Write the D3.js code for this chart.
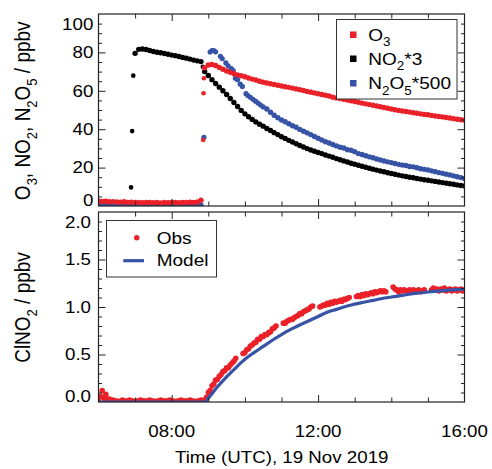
<!DOCTYPE html>
<html><head><meta charset="utf-8">
<script src="https://cdn.jsdelivr.net/npm/d3@7"></script>
<style>body{margin:0;background:#fff} svg{display:block}</style>
</head><body><svg id="c" width="492" height="469"></svg>
<script>
// ---------------- DATA ----------------
// Top panel: regular 0.1 h grid from 06:00 to 16:00 (101 samples)
const topStart = 6.0, topStep = 0.1;
const o3 = [2.6,2.4,2.5,2.2,2.3,2.1,2.0,2.2,1.9,2.0, 1.8,1.9,1.7,1.8,1.9,1.7,1.8,1.6,1.8,1.7, 1.9,1.8,1.7,1.9,1.8,2.0,1.9,2.1,3.0,
  72.0, 73.4,73.7,73.2,72.2,71.2,70.3,69.6,68.9,68.3,67.8,
  67.3,66.7,66.1,65.6,65.0,64.5,64.1,63.7,63.3,62.9,
  62.5,62.1,61.8,61.4,61.0,60.6,60.2,59.7,59.3,58.9,
  58.5,58.1,57.7,57.3,56.7,56.3,56.0,55.6,55.2,54.8,
  54.4,54.0,53.6,53.2,52.8,52.5,52.1,51.7,51.3,50.9,
  50.5,50.1,49.8,49.5,49.2,48.9,48.6,48.3,48.0,47.7,
  47.5,47.2,46.9,46.6,46.4,46.1,45.8,45.5,45.2,44.9, 44.7];
const no2x3 = [0.5,0.4,0.6,0.5,0.4,0.5,0.6,0.4,0.5,0.5,
  79.5,81.6,81.8,81.5,81.0,80.5,80.1,79.8,79.4,79.0,
  78.6,78.3,77.9,77.4,77.0,76.5,76.0,75.6,75.2,
  70.0, 68.0,65.8,63.8,61.9,60.0,58.1,56.0,53.9,51.8,49.8,
  48.0,46.5,45.1,43.8,42.6,41.6,40.4,39.3,38.2,37.2,
  36.1,35.2,34.2,33.3,32.4,31.5,30.7,29.9,29.2,28.5,
  27.9,27.3,26.6,26.0,25.4,24.7,24.1,23.5,22.9,22.3,
  21.8,21.2,20.7,20.2,19.7,19.2,18.7,18.2,17.8,17.3,
  16.9,16.5,16.1,15.7,15.4,15.0,14.7,14.3,14.0,13.7,
  13.4,13.1,12.8,12.5,12.2,11.9,11.6,11.3,11.0,10.7, 10.4];
const n2o5x500 = [0.3,0.2,0.4,0.3,0.3,0.2,0.3,0.4,0.3,0.2, 0.3,0.3,0.2,0.4,0.3,0.3,0.2,0.3,0.4,0.3, 0.3,0.2,0.3,0.3,0.4,0.3,0.2,0.3,0.4,
  null, null,null,null,null,null,null,null,null,null,null,
  null,null,null,null,null,null,
  50.5,48.8,47.3,46.0,
  44.8,43.9,42.8,41.8,41.0,39.9,38.9,38.1,37.2,36.2,
  35.3,34.4,33.5,32.8,32.0,31.3,30.6,30.2,29.3,29.0,
  28.3,27.3,26.8,26.2,25.6,25.1,24.5,24.0,23.5,23.0,
  22.6,22.1,21.7,21.3,21.1,20.6,20.4,19.9,19.4,19.1,
  18.8,18.3,17.9,17.4,17.0,16.6,16.2,15.7,15.2,14.8, 14.3];
// irregular samples (rapid changes / sparse N2O5)
const no2JumpTime = [6.89, 6.92, 6.95, 8.85];
const no2JumpVal  = [9.7, 39.0, 67.9, 72.5];
const o3JumpTime  = [8.86, 8.87, 8.88];
const o3JumpVal   = [34.4, 58.7, 66.5];
const n2o5SparseTime = [8.88, 9.05, 9.10, 9.15, 9.20, 9.33, 9.38, 9.48, 9.54, 9.63, 9.68, 9.74, 9.80, 9.87, 9.93, 10.03, 10.08, 10.15, 10.22, 10.29, 10.36, 10.43, 10.50];
const n2o5SparseVal  = [35.8, 80.2, 81.0, 81.0, 80.3, 78.0, 76.8, 74.5, 73.0, 71.5, 70.5, 66.5, 65.8, 63.5, 62.3, 58.5, 57.5, 56.6, 55.6, 54.6, 53.6, 52.6, 51.6];

// Bottom panel: ClNO2 observations on 0.05 h grid from 06:00 (201 samples)
const obsStart = 6.0, obsStep = 0.05;
const clno2Obs = [0.02,0.06,0.12,0.04,0.08,0.03,0.03,
  0.01,0.02,0.01,0.01,0.0,0.01,0.02,0.01,0.01,0.01, 0.02,0.01,0.01,0.0,0.01,0.01,0.02,0.01,0.01,0.01,
  0.01,0.02,0.01,0.01,0.0,0.01,0.01,0.02,0.01,0.01, 0.01,0.01,0.02,0.01,0.01,0.0,0.01,0.01,0.02,0.01,
  0.01,0.01,0.01,0.02,0.01,0.01,0.0,0.01,0.01,0.02, 0.01,
  0.02,0.05,0.10,0.12,0.17,0.19,0.23,0.24,0.27,0.29,
  0.32,0.33,0.36,0.36,0.39,0.41,0.43,0.46,null,null,
  null,0.51,0.52,0.55,0.56,0.59,0.60,0.62,0.63,0.66,
  0.66,0.69,0.69,0.71,0.71,0.73,0.74,0.77,0.78,0.80,
  null,null,null,0.83,0.83,0.85,0.86,0.87,0.87,0.89,
  0.90,0.91,0.93,0.93,0.95,0.96,0.97,0.98,1.00,1.01,
  null,null,null,1.00,1.01,1.02,1.02,1.04,1.03,1.05,
  1.04,1.06,1.05,1.06,1.07,1.06,1.08,1.08,1.09,1.10,
  null,null,null,1.11,1.12,1.11,1.13,1.12,1.14,1.13,
  1.14,1.15,1.14,1.16,1.15,1.16,1.17,1.16,1.17,1.16,
  null,null,null,1.21,1.19,1.18,1.16,1.18,1.17,1.18,
  1.17,1.16,1.18,1.17,1.18,1.16,1.17,1.18,1.16,1.17,
  1.18,null,null,null,1.18,1.20,1.18,1.19,1.17,1.19,
  1.18,1.20,1.17,1.18,1.19,1.17,1.18,1.19,1.17,1.18,
  1.19,1.17,1.18];
const modelTime = [6.0, 8.9, 9.0, 9.25, 9.5, 9.75, 10.0, 10.25, 10.5, 10.75, 11.0, 11.25, 11.5, 11.75, 12.0, 12.25, 12.5, 12.75, 13.0, 13.25, 13.5, 13.75, 14.0, 14.25, 14.5, 14.75, 15.0, 15.25, 15.5, 15.75, 16.0];
const modelVal  = [0, 0, 0.04, 0.16, 0.265, 0.36, 0.45, 0.52, 0.585, 0.65, 0.71, 0.765, 0.81, 0.855, 0.9, 0.945, 0.975, 1.005, 1.03, 1.05, 1.07, 1.09, 1.105, 1.12, 1.135, 1.147, 1.158, 1.167, 1.175, 1.182, 1.187];

// ticks / labels
const xLabelHours = [8, 12, 16];
const xTickLabels = ["08:00", "12:00", "16:00"];
const y1LabelVals = [0, 20, 40, 60, 80, 100];
const y2LabelVals = [0, 0.5, 1.0, 1.5, 2.0];
const y2TickLabels = ["0.0", "0.5", "1.0", "1.5", "2.0"];

// ---------------- DRAWING ----------------
const FONT = "'Liberation Sans', Arial, Helvetica, sans-serif";
const RED = "#ea2128", BLUE = "#3653a6", BLACK = "#000";
const svg = d3.select("#c").style("font-family", FONT);
const L = 98.5, R = 464.5;
const P1 = {top: 14, bottom: 206}, P2 = {top: 212, bottom: 402};
const x = d3.scaleLinear().domain([6, 16]).range([L, R]);
const y1 = d3.scaleLinear().domain([0, 100]).range([P1.bottom, P1.top]);
const y2 = d3.scaleLinear().domain([0, 2]).range([P2.bottom, P2.top]);

const defs = svg.append("defs");
[["clip1", P1], ["clip2", P2]].forEach(([id, P]) => {
  defs.append("clipPath").attr("id", id).append("rect")
    .attr("x", L).attr("y", P.top).attr("width", R - L).attr("height", P.bottom - P.top);
});

function gridPts(start, step, vals) {
  return vals.map((v, i) => ({t: +(start + i * step).toFixed(4), v})).filter(d => d.v != null);
}
function pairPts(ts, vs) { return ts.map((t, i) => ({t, v: vs[i]})); }
function dots(g, pts, yS, color, r) {
  g.append("g").selectAll("circle").data(pts).join("circle")
    .attr("cx", d => x(d.t)).attr("cy", d => yS(d.v)).attr("r", r).attr("fill", color);
}

// text helper: parts = [[string, isSub], ...]
function label(g, px, py, parts, o) {
  const sx = o.sx || 1, rot = o.rot || 0;
  const t = g.append("text")
    .attr("transform", `translate(${px},${py}) scale(${sx},1)` + (rot ? ` rotate(${rot})` : ""))
    .attr("text-anchor", o.anchor || "start")
    .attr("font-size", o.fs).attr("fill", "#000");
  let shifted = false;
  parts.forEach(([s, sub]) => {
    const sp = t.append("tspan").text(s);
    if (sub) { sp.attr("font-size", o.subFs).attr("dy", o.shift); shifted = true; }
    else if (shifted) { sp.attr("dy", -o.shift); shifted = false; }
  });
  return t;
}

// ---- top panel data
const g1 = svg.append("g").attr("clip-path", "url(#clip1)");
dots(g1, gridPts(topStart, topStep, no2x3), y1, BLACK, 2.7);
dots(g1, pairPts(no2JumpTime, no2JumpVal), y1, BLACK, 2.3);
dots(g1, gridPts(topStart, topStep, n2o5x500), y1, BLUE, 2.7);
dots(g1, pairPts(n2o5SparseTime, n2o5SparseVal), y1, BLUE, 2.6);
dots(g1, gridPts(topStart, topStep, o3), y1, RED, 2.7);
dots(g1, pairPts(o3JumpTime, o3JumpVal), y1, RED, 2.3);

// ---- bottom panel data
const g2 = svg.append("g").attr("clip-path", "url(#clip2)");
dots(g2, gridPts(obsStart, obsStep, clno2Obs), y2, RED, 2.8);
g2.append("path").datum(pairPts(modelTime, modelVal))
  .attr("d", d3.line().x(d => x(d.t)).y(d => y2(d.v)).curve(d3.curveMonotoneX))
  .attr("fill", "none").attr("stroke", BLUE).attr("stroke-width", 3.2);

// ---- axes (inward ticks on all sides) + frames
function ticksFor(P, yS, yMajor, yMinor) {
  const ax = svg.append("g");
  const hoursMinor = [7, 9, 10, 11, 13, 14, 15], hoursMajor = [8, 12];
  const add = (axis, tr) => {
    const a = ax.append("g").attr("transform", tr).call(axis);
    a.select(".domain").remove();
    a.selectAll("line").attr("stroke", "#222").attr("stroke-width", 1);
  };
  add(d3.axisBottom(x).tickValues(hoursMinor).tickSize(-4.5).tickFormat(""), `translate(0,${P.bottom})`);
  add(d3.axisBottom(x).tickValues(hoursMajor).tickSize(-7).tickFormat(""), `translate(0,${P.bottom})`);
  add(d3.axisTop(x).tickValues(hoursMinor).tickSize(-4.5).tickFormat(""), `translate(0,${P.top})`);
  add(d3.axisTop(x).tickValues(hoursMajor).tickSize(-7).tickFormat(""), `translate(0,${P.top})`);
  add(d3.axisLeft(yS).tickValues(yMinor).tickSize(-3.5).tickFormat(""), `translate(${L},0)`);
  add(d3.axisLeft(yS).tickValues(yMajor).tickSize(-7).tickFormat(""), `translate(${L},0)`);
  add(d3.axisRight(yS).tickValues(yMinor).tickSize(-3.5).tickFormat(""), `translate(${R},0)`);
  add(d3.axisRight(yS).tickValues(yMajor).tickSize(-7).tickFormat(""), `translate(${R},0)`);
  svg.append("rect").attr("x", L).attr("y", P.top).attr("width", R - L).attr("height", P.bottom - P.top)
    .attr("fill", "none").attr("stroke", "#222").attr("stroke-width", 1.2);
}
ticksFor(P1, y1, [20, 40, 60, 80], d3.range(5, 100, 5).filter(v => v % 20 !== 0));
ticksFor(P2, y2, [0.5, 1.0, 1.5], d3.range(1, 20).filter(v => v % 5 !== 0).map(v => v / 10));

// ---- tick labels
const TL = {fs: 16, sx: 1.17};
const labels = svg.append("g");
function yLab(P, yS, vals, texts, xr) {
  vals.forEach((v, i) => {
    let c = yS(v);
    c = Math.max(c, P.top + 10.4);
    c = Math.min(c, P.bottom - 5.9);
    label(labels, xr, c + 5.7, [[texts[i], false]], {fs: TL.fs, sx: TL.sx, anchor: "end"});
  });
}
yLab(P1, y1, y1LabelVals, y1LabelVals.map(String), 93.3);
yLab(P2, y2, y2LabelVals, y2TickLabels, 91);
xLabelHours.forEach((h, i) => label(labels, x(h), 437, [[xTickLabels[i], false]], {fs: TL.fs, sx: TL.sx, anchor: "middle"}));

// ---- axis titles
label(labels, 281.7, 463, [["Time (UTC), 19 Nov 2019", false]], {fs: 16, sx: 1.17, anchor: "middle"});
const rt = {fs: 19, subFs: 13, shift: 6, sx: 1.17, rot: -90, anchor: "middle"};
label(labels, 29.5, 110.8, [["O", false], ["3", true], [", NO", false], ["2", true], [", N", false], ["2", true], ["O", false], ["5", true], [" / ppbv", false]], rt);
label(labels, 29.5, 307.5, [["ClNO", false], ["2", true], [" / ppbv", false]], rt);

// ---- legends
const lg = svg.append("g");
lg.append("rect").attr("x", 336.5).attr("y", 19.5).attr("width", 120.5).attr("height", 79.5)
  .attr("fill", "#fff").attr("stroke", "#333").attr("stroke-width", 1);
const lgItems = [
  {color: RED, parts: [["O", false], ["3", true]], base: 40.5},
  {color: BLACK, parts: [["NO", false], ["2", true], ["*3", false]], base: 64.5},
  {color: BLUE, parts: [["N", false], ["2", true], ["O", false], ["5", true], ["*500", false]], base: 89}
];
const lt = {fs: 17, subFs: 12, shift: 5.5, sx: 1.12};
lgItems.forEach(it => {
  lg.append("rect").attr("x", 350).attr("y", it.base - 9).attr("width", 6.5).attr("height", 6.5).attr("fill", it.color);
  label(lg, 368.3, it.base, it.parts, lt);
});
lg.append("rect").attr("x", 106.5).attr("y", 220.5).attr("width", 110).attr("height", 56.5)
  .attr("fill", "#fff").attr("stroke", "#333").attr("stroke-width", 1);
lg.append("circle").attr("cx", 136.7).attr("cy", 237.7).attr("r", 2.7).attr("fill", RED);
label(lg, 156.7, 243.8, [["Obs", false]], lt);
lg.append("line").attr("x1", 123.3).attr("x2", 144).attr("y1", 260.7).attr("y2", 260.7)
  .attr("stroke", BLUE).attr("stroke-width", 3.2);
label(lg, 156.7, 265.8, [["Model", false]], lt);
</script></body></html>
